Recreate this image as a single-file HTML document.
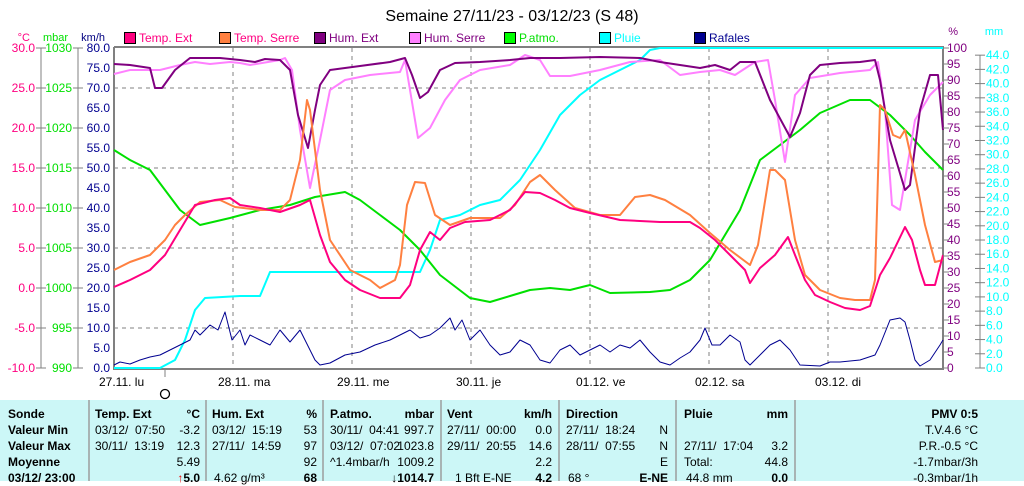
<!DOCTYPE html>
<html><head><meta charset="utf-8"><style>
body{margin:0;background:#fff;width:1024px;height:481px;overflow:hidden;font-family:"Liberation Sans",sans-serif;position:relative}
#tbl{position:absolute;left:0;top:400px;width:1024px;height:81px;background:#ccf7f7}
.sep{position:absolute;top:0;width:2px;height:81px;background:#a8b4b4}
.c{position:absolute;font-size:12px;line-height:16px;white-space:nowrap;color:#000}
.b{font-weight:bold}
</style></head><body>
<svg width="1024" height="400" style="position:absolute;left:0;top:0" font-family="Liberation Sans, sans-serif" font-size="12">
<text x="512" y="21" text-anchor="middle" font-size="16">Semaine 27/11/23 - 03/12/23 (S 48)</text>
<text x="30" y="41" text-anchor="end" fill="#ff0080" font-size="11">°C</text>
<text x="68" y="41" text-anchor="end" fill="#00e000" font-size="11">mbar</text>
<text x="105" y="41" text-anchor="end" fill="#000080" font-size="11">km/h</text>
<text x="958" y="35" text-anchor="end" fill="#800080" font-size="11">%</text>
<text x="994" y="35" text-anchor="middle" fill="#00ffff" font-size="11">mm</text>
<g font-size="12">
<rect x="124.5" y="32.5" width="11" height="11" fill="#ff0080" stroke="#000"/><text x="139" y="42" fill="#ff0080">Temp. Ext</text>
<rect x="219.5" y="32.5" width="11" height="11" fill="#ff8040" stroke="#000"/><text x="234" y="42" fill="#ff0080">Temp. Serre</text>
<rect x="314.5" y="32.5" width="11" height="11" fill="#800080" stroke="#000"/><text x="329" y="42" fill="#800080">Hum. Ext</text>
<rect x="409.5" y="32.5" width="11" height="11" fill="#ff80ff" stroke="#000"/><text x="424" y="42" fill="#800080">Hum. Serre</text>
<rect x="504.5" y="32.5" width="11" height="11" fill="#00ff00" stroke="#000"/><text x="519" y="42" fill="#00e000">P.atmo.</text>
<rect x="599.5" y="32.5" width="11" height="11" fill="#00ffff" stroke="#000"/><text x="614" y="42" fill="#00ffff">Pluie</text>
<rect x="694.5" y="32.5" width="11" height="11" fill="#000090" stroke="#000"/><text x="709" y="42" fill="#000090">Rafales</text>
</g>
<g stroke="#808080" stroke-dasharray="4,4" stroke-width="1">
<line x1="233" y1="48" x2="233" y2="368"/><line x1="352" y1="48" x2="352" y2="368"/><line x1="471" y1="48" x2="471" y2="368"/><line x1="590" y1="48" x2="590" y2="368"/><line x1="709" y1="48" x2="709" y2="368"/><line x1="828" y1="48" x2="828" y2="368"/>
<line x1="114" y1="88" x2="943" y2="88"/><line x1="114" y1="168" x2="943" y2="168"/><line x1="114" y1="248" x2="943" y2="248"/><line x1="114" y1="328" x2="943" y2="328"/>
</g>
<g stroke="#808080" stroke-width="2" fill="none">
<polyline points="114,47 943,47 943,369 114,369 114,47"/>
</g>
<g stroke="#808080" stroke-width="1">
<line x1="41" y1="48" x2="41" y2="368"/><line x1="78" y1="48" x2="78" y2="368"/><line x1="980" y1="55" x2="980" y2="368"/>
<line x1="36" y1="48" x2="46" y2="48"/><line x1="36" y1="88" x2="46" y2="88"/><line x1="36" y1="128" x2="46" y2="128"/><line x1="36" y1="168" x2="46" y2="168"/><line x1="36" y1="208" x2="46" y2="208"/><line x1="36" y1="248" x2="46" y2="248"/><line x1="36" y1="288" x2="46" y2="288"/><line x1="36" y1="328" x2="46" y2="328"/><line x1="36" y1="368" x2="46" y2="368"/>
<line x1="73" y1="48" x2="83" y2="48"/><line x1="73" y1="88" x2="83" y2="88"/><line x1="73" y1="128" x2="83" y2="128"/><line x1="73" y1="168" x2="83" y2="168"/><line x1="73" y1="208" x2="83" y2="208"/><line x1="73" y1="248" x2="83" y2="248"/><line x1="73" y1="288" x2="83" y2="288"/><line x1="73" y1="328" x2="83" y2="328"/><line x1="73" y1="368" x2="83" y2="368"/>
<line x1="165" y1="368" x2="165" y2="377"/>
</g>
<circle cx="165" cy="394" r="4.5" fill="none" stroke="#000" stroke-width="1.3"/>
<g font-size="12" text-anchor="end">
<g fill="#ff0080"><text x="35" y="52">30.0</text><text x="35" y="92">25.0</text><text x="35" y="132">20.0</text><text x="35" y="172">15.0</text><text x="35" y="212">10.0</text><text x="35" y="252">5.0</text><text x="35" y="292">0.0</text><text x="35" y="332">-5.0</text><text x="35" y="372">-10.0</text></g>
<g fill="#00e000"><text x="72" y="52">1030</text><text x="72" y="92">1025</text><text x="72" y="132">1020</text><text x="72" y="172">1015</text><text x="72" y="212">1010</text><text x="72" y="252">1005</text><text x="72" y="292">1000</text><text x="72" y="332">995</text><text x="72" y="372">990</text></g>
<g fill="#000090" id="kmh"></g>
</g>
<g font-size="12" fill="#800080" id="pct"></g>
<g font-size="12" fill="#00ffff" id="mm"></g>
<g font-size="12" fill="#000">
<text x="99" y="386">27.11.  lu</text><text x="218" y="386">28.11.  ma</text><text x="337" y="386">29.11.  me</text><text x="456" y="386">30.11.  je</text><text x="576" y="386">01.12.  ve</text><text x="695" y="386">02.12.  sa</text><text x="815" y="386">03.12.  di</text>
</g>
<g fill="none" stroke-width="2" stroke-linejoin="round">
<polyline stroke="#00ffff" points="114,368 160,368 175,360 185,340 195,310 205,298 240,296 260,296 270,272 300,272 420,272 430,250 440,220 460,215 480,205 500,200 520,180 540,150 560,115 580,95 600,80 620,70 640,60 650,50 660,48 943,48"/>
<polyline stroke="#00e000" points="114,150 130,160 150,170 165,190 180,210 200,225 230,218 260,210 290,205 315,197 345,192 360,200 380,215 400,230 420,250 440,275 470,298 490,302 510,296 530,290 550,288 570,290 590,285 610,293 650,292 670,290 690,280 710,260 740,210 760,160 780,145 800,130 820,113 850,100 870,100 890,115 910,135 925,152 943,170"/>
<polyline stroke="#ff80ff" points="114,74 130,70 160,70 180,65 195,62 210,64 230,62 240,63 250,65 280,60 285,58 292,70 300,130 310,188 318,150 330,90 345,80 370,75 400,72 405,60 410,90 418,138 430,128 445,100 460,80 480,70 510,65 525,55 540,60 550,76 570,76 600,70 630,62 660,60 680,75 700,72 720,70 735,75 755,62 768,60 775,100 785,162 795,95 810,78 840,73 870,70 878,62 885,110 892,205 900,210 905,180 915,120 930,95 943,82"/>
<polyline stroke="#800080" points="114,64 130,65 150,68 155,88 162,88 175,70 190,58 220,58 240,60 255,62 265,59 280,60 290,70 298,115 308,148 315,110 320,85 330,70 360,66 390,62 405,58 412,75 420,98 428,92 440,70 455,63 480,62 510,60 530,58 560,58 600,57 640,58 660,62 680,65 700,68 715,65 730,70 740,62 755,62 770,100 790,137 800,113 810,75 820,65 840,63 860,62 875,60 880,80 890,140 905,190 910,185 920,110 930,75 938,75 943,130"/>
<polyline stroke="#ff8040" points="114,270 130,262 150,255 165,240 175,225 185,215 200,202 220,200 235,207 260,210 280,210 290,200 300,160 307,100 310,110 320,190 330,240 350,270 370,280 380,288 395,280 400,265 407,205 415,182 425,183 435,215 450,225 470,218 500,218 515,205 530,182 540,175 555,190 575,208 600,215 620,215 635,197 650,195 665,200 690,215 710,233 730,250 750,265 758,245 770,170 775,170 785,180 795,240 805,275 820,290 840,298 855,300 870,300 875,280 880,105 885,110 893,135 900,138 905,130 915,175 925,225 935,262 943,260"/>
<polyline stroke="#ff0080" points="114,287 130,280 150,270 165,255 180,230 195,205 215,200 230,198 240,205 260,208 280,212 300,205 310,200 320,235 330,262 345,280 360,290 380,298 400,298 410,285 420,250 430,232 440,240 450,228 465,222 490,220 510,210 525,192 540,193 555,200 570,208 590,213 620,220 660,222 690,222 700,228 715,240 730,255 745,270 750,283 760,268 775,255 788,237 795,255 805,280 815,295 830,302 845,308 860,310 870,306 880,275 890,258 905,227 912,240 920,270 925,285 935,285 943,255"/>
<polyline stroke="#000090" stroke-width="1" points="114,365 120,362 130,364 140,360 150,357 160,355 170,350 180,345 190,340 195,330 200,335 210,325 218,330 225,312 232,340 240,330 245,345 250,335 260,340 270,345 280,330 290,342 300,330 310,350 315,360 320,365 330,363 345,355 360,352 375,345 390,340 400,335 410,330 420,338 430,335 440,328 450,318 455,330 462,320 470,340 480,330 490,345 500,355 510,352 520,340 530,345 540,360 550,363 560,350 570,345 580,355 590,350 600,345 610,352 620,345 630,348 640,340 650,352 660,362 670,365 680,358 690,352 700,340 705,328 712,345 720,345 730,335 740,342 745,360 750,365 760,355 770,345 780,340 790,350 800,365 820,366 830,362 840,362 860,360 875,355 880,345 890,320 900,318 905,322 910,340 915,360 920,366 930,360 940,345 943,340"/>
</g>
</svg>
<div id="tbl">
<div class="sep" style="left:88px"></div><div class="sep" style="left:205px"></div><div class="sep" style="left:322px"></div><div class="sep" style="left:440px"></div><div class="sep" style="left:558px"></div><div class="sep" style="left:675px"></div><div class="sep" style="left:794px"></div>
</div>
<script>
(function(){
var ns="http://www.w3.org/2000/svg";
function t(g,x,y,s,anchor){var e=document.createElementNS(ns,"text");e.setAttribute("x",x);e.setAttribute("y",y);if(anchor)e.setAttribute("text-anchor",anchor);e.textContent=s;document.getElementById(g).appendChild(e);}
for(var v=80;v>=0;v-=5){t("kmh",110,368-v*4+4,v.toFixed(1));}
var svg=document.querySelector("svg");
for(var p=100;p>=0;p-=5){var y=368-p*3.2;t("pct",947,y+4,String(p));var l=document.createElementNS(ns,"line");l.setAttribute("x1",943);l.setAttribute("x2",949);l.setAttribute("y1",y);l.setAttribute("y2",y);l.setAttribute("stroke","#808080");svg.appendChild(l);}
for(var m=44;m>=0;m-=2){var y=368-m*7.11;t("mm",986,y+4,m.toFixed(1));var l=document.createElementNS(ns,"line");l.setAttribute("x1",975);l.setAttribute("x2",985);l.setAttribute("y1",y);l.setAttribute("y2",y);l.setAttribute("stroke","#808080");svg.appendChild(l);}
var T=document.getElementById("tbl");
function c(x,row,s,cls,right){var d=document.createElement("div");d.className="c "+(cls||"");d.style.top=(6+row*16)+"px";if(right){d.style.right=(1024-x)+"px";}else d.style.left=x+"px";d.innerHTML=s;T.appendChild(d);}
var L=["Sonde","Valeur Min","Valeur Max","Moyenne","03/12/ 23:00"];for(var i=0;i<5;i++)c(8,i,L[i],"b");
c(95,0,"Temp. Ext","b");c(200,0,"°C","b",1);c(95,1,"03/12/&nbsp; 07:50");c(200,1,"-3.2","",1);c(95,2,"30/11/&nbsp; 13:19");c(200,2,"12.3","",1);c(200,3,"5.49","",1);c(200,4,"<span style='color:#e00'>↑</span>5.0","b",1);
c(212,0,"Hum. Ext","b");c(317,0,"%","b",1);c(212,1,"03/12/&nbsp; 15:19");c(317,1,"53","",1);c(212,2,"27/11/&nbsp; 14:59");c(317,2,"97","",1);c(317,3,"92","",1);c(214,4,"4.62 g/m³");c(317,4,"68","b",1);
c(330,0,"P.atmo.","b");c(434,0,"mbar","b",1);c(330,1,"30/11/&nbsp; 04:41");c(434,1,"997.7","",1);c(330,2,"03/12/&nbsp; 07:02");c(434,2,"1023.8","",1);c(330,3,"^1.4mbar/h");c(434,3,"1009.2","",1);c(434,4,"↓1014.7","b",1);
c(447,0,"Vent","b");c(552,0,"km/h","b",1);c(447,1,"27/11/&nbsp; 00:00");c(552,1,"0.0","",1);c(447,2,"29/11/&nbsp; 20:55");c(552,2,"14.6","",1);c(552,3,"2.2","",1);c(455,4,"1 Bft E-NE");c(552,4,"4.2","b",1);
c(566,0,"Direction","b");c(668,1,"N","",1);c(566,1,"27/11/&nbsp; 18:24");c(566,2,"28/11/&nbsp; 07:55");c(668,2,"N","",1);c(668,3,"E","",1);c(568,4,"68 °");c(668,4,"E-NE","b",1);
c(684,0,"Pluie","b");c(788,0,"mm","b",1);c(684,2,"27/11/&nbsp; 17:04");c(788,2,"3.2","",1);c(684,3,"Total:");c(788,3,"44.8","",1);c(686,4,"44.8 mm");c(788,4,"0.0","b",1);
c(978,0,"PMV 0:5","b",1);c(978,1,"T.V.4.6 °C","",1);c(978,2,"P.R.-0.5 °C","",1);c(978,3,"-1.7mbar/3h","",1);c(978,4,"-0.3mbar/1h","",1);
})();
</script>
</body></html>
